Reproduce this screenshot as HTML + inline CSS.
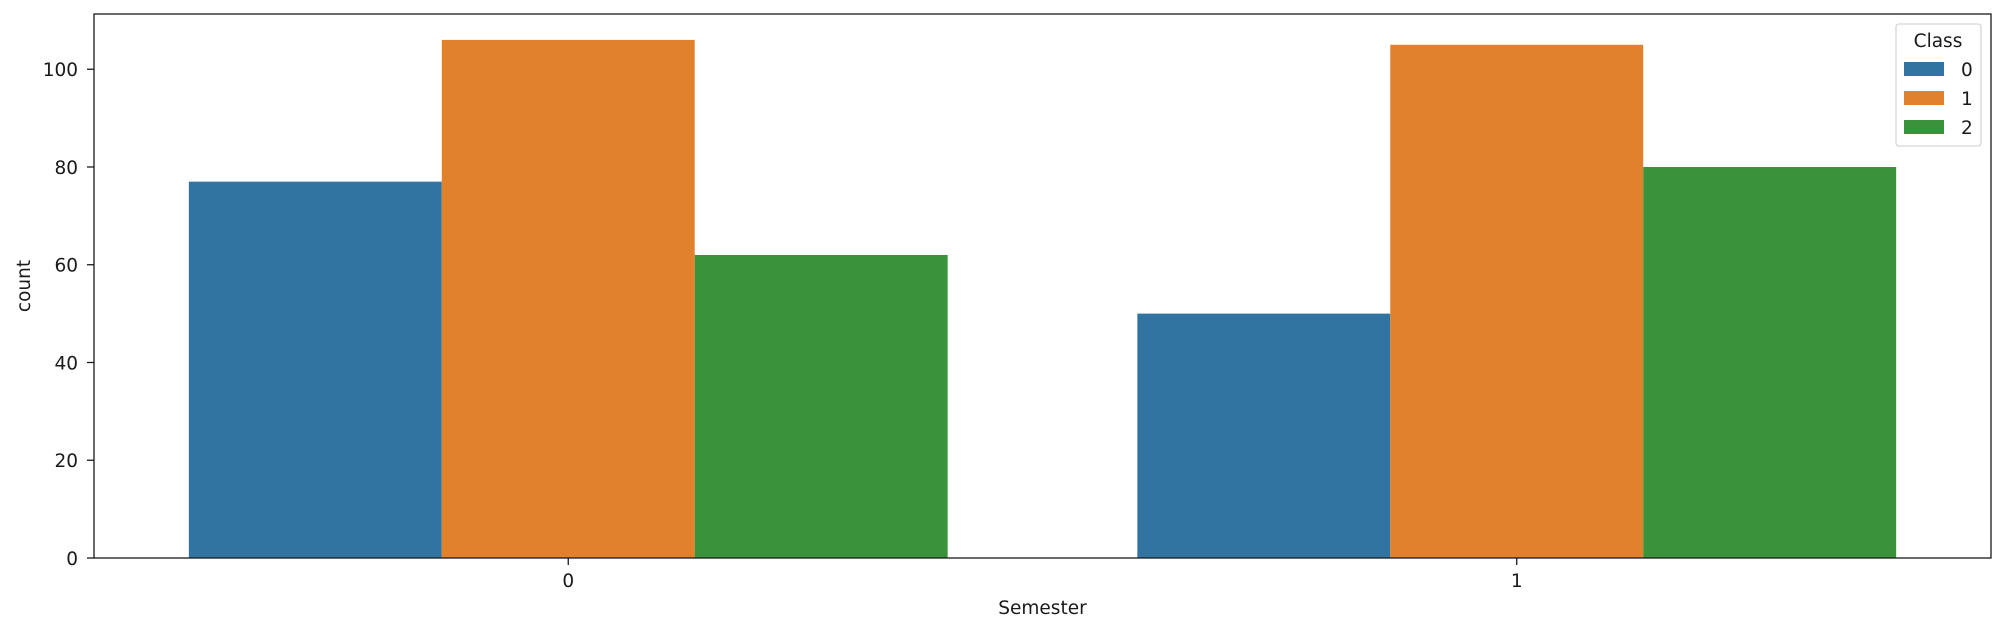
<!DOCTYPE html>
<html><head><meta charset="utf-8"><style>
body{margin:0;background:#fff;}
svg text{font-family:"DejaVu Sans","Liberation Sans",sans-serif;fill:#1a1a1a;}
</style></head><body>
<svg id="chart" width="2005" height="632" xmlns="http://www.w3.org/2000/svg">
<g id="bars"></g>
<g id="axes"></g>
<g>
<rect x="1896" y="24" width="85" height="122" rx="3" fill="#fff" fill-opacity="0.8" stroke="#d6d6d6" stroke-width="1.3"/>
<text x="1938" y="47" font-size="18.5" text-anchor="middle">Class</text>
<rect x="1904" y="62" width="40" height="14" fill="#3274a1"/>
<text x="1961" y="76" font-size="18.5">0</text>
<rect x="1904" y="91" width="40" height="14" fill="#e1812c"/>
<text x="1961" y="105" font-size="18.5">1</text>
<rect x="1904" y="120" width="40" height="14" fill="#3a923a"/>
<text x="1961" y="134" font-size="18.5">2</text>
</g>
</svg>
<script>
const categories = ["0", "1"];
const class0 = [77, 50];
const class1 = [106, 105];
const class2 = [62, 80];
const yTicks = [0, 20, 40, 60, 80, 100];
const colors = ["#3274a1", "#e1812c", "#3a923a"];
const series = [class0, class1, class2];
const L = 94, R = 1991, T = 14, B = 558, YMAX = 111.3;
const NS = "http://www.w3.org/2000/svg";
const y = v => B - v / YMAX * (B - T);
const catW = (R - L) / categories.length;
const x = i => L + catW * (i + 0.5);
const barW = catW * 0.8 / series.length;
const bars = document.getElementById('bars');
const axes = document.getElementById('axes');
function mk(tag, attrs, parent){const e=document.createElementNS(NS,tag);for(const k in attrs)e.setAttribute(k,attrs[k]);parent.appendChild(e);return e;}
series.forEach((s, si) => {
  s.forEach((v, ci) => {
    const r = mk('rect', {x: x(ci) - catW*0.4 + si*barW, y: y(v), width: barW, height: y(0) - y(v), fill: colors[si]}, bars);
    
    
  });
});
yTicks.forEach(t => {
  const l = mk('line', {x1: L - 7, x2: L, y1: y(t), y2: y(t), stroke: '#1a1a1a', 'stroke-width': 1.3}, axes);
  
  
  const tx = mk('text', {x: L - 16, y: y(t) + 7, 'font-size': 18.5, 'text-anchor': 'end'}, axes);
  tx.textContent = t;
  
  
});
categories.forEach((c, i) => {
  const l = mk('line', {x1: x(i), x2: x(i), y1: B, y2: B + 7, stroke: '#1a1a1a', 'stroke-width': 1.3}, axes);
  
  
  const tx = mk('text', {x: x(i), y: B + 29, 'font-size': 18.5, 'text-anchor': 'middle'}, axes);
  tx.textContent = c;
  
  
});
const frame = mk('rect', {x: L, y: T, width: R - L, height: B - T, fill: 'none', stroke: '#1a1a1a', 'stroke-width': 1.3}, axes);


const xt = mk('text', {x: (L + R) / 2, y: 614, 'font-size': 18.5, 'text-anchor': 'middle'}, axes);
xt.textContent = 'Semester';


const yt = mk('text', {x: 0, y: 0, 'font-size': 18.5, 'text-anchor': 'middle', transform: 'translate(30,' + ((T + B) / 2) + ') rotate(-90)'}, axes);
yt.textContent = 'count';


</script>
</body></html>
